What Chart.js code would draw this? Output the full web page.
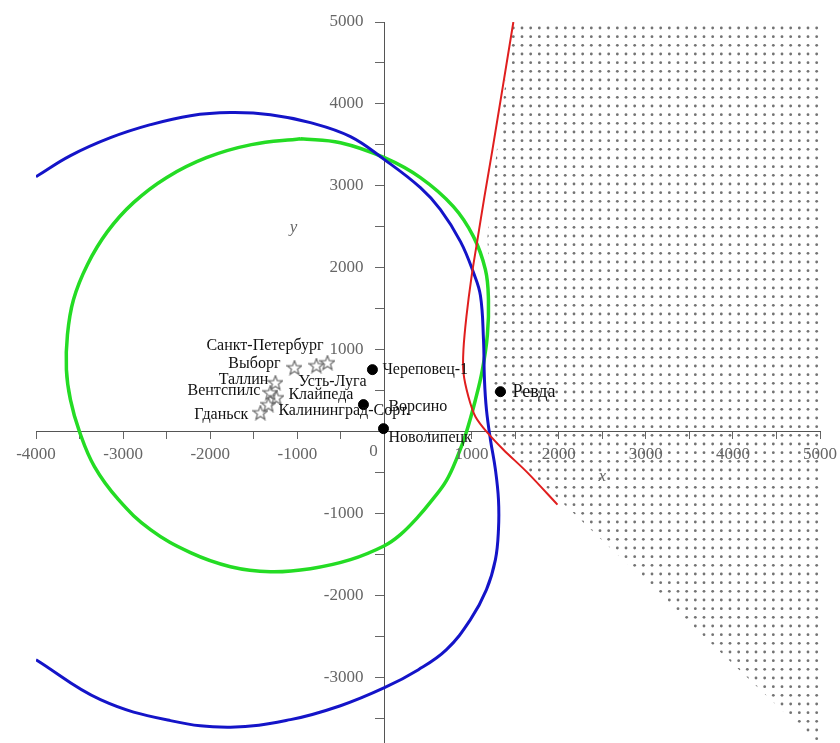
<!DOCTYPE html>
<html>
<head>
<meta charset="utf-8">
<script src="https://cdn.jsdelivr.net/npm/chart.js@4/dist/chart.umd.min.js"></script>
<style>
  body { margin: 0; background: #fff; }
  canvas { display: block; }
</style>
</head>
<body>
<canvas id="mapChart" width="840" height="743"></canvas>
<script>
// curves, as [x, y] pairs
const blueCurve = [
    [-4000, 3112], [-3604, 3369], [-3145, 3588], [-2686, 3747], [-2227, 3857],
    [-1768, 3894], [-1309, 3869], [-850, 3772], [-390, 3601], [0, 3320],
    [413, 2978], [643, 2710], [873, 2320], [1022, 1941], [1102, 1660],
    [1137, 1123], [1148, 635], [1171, 269], [1217, -98], [1274, -464],
    [1309, -830], [1309, -1196], [1274, -1562], [1171, -1928], [987, -2295],
    [712, -2661], [390, -2905], [0, -3125], [-505, -3345], [-1079, -3515],
    [-1768, -3607], [-2457, -3527], [-3260, -3271], [-4000, -2783]
];
const greenCurve = [
    [-964, 3576], [-505, 3527], [0, 3344], [413, 3100], [792, 2746],
    [1022, 2380], [1159, 1977], [1194, 1611], [1182, 1184], [1125, 757],
    [1045, 391], [942, 0], [838, -305], [711, -598], [551, -830],
    [378, -1049], [183, -1257], [0, -1392], [-390, -1562], [-850, -1672],
    [-1309, -1709], [-1768, -1648], [-2227, -1477], [-2686, -1196], [-3053, -830],
    [-3329, -427], [-3501, 0], [-3605, 391], [-3651, 757], [-3639, 1184],
    [-3570, 1611], [-3410, 2038], [-3180, 2441], [-2881, 2795], [-2503, 3100],
    [-2044, 3344], [-1527, 3503], [-964, 3576]
];
const redCurve = [
    [1480, 5000], [1240, 3442], [1148, 2868], [1068, 2343], [1000, 1892],
    [941, 1404], [907, 1001], [907, 720], [964, 427], [1045, 183],
    [1182, -12], [1366, -220], [1642, -500], [1986, -891]
];
// boundary of the shaded (dotted) region
const regionEdge = [
    [1480, 5000], [5000, 5000], [5000, -3800], [4960, -3800], [1380, -200],
    [1240, 0], [1240, 1600], [1180, 2350], [1290, 3440], [1480, 5000]
];

// points
const dotNames = ["Череповец-1", "Ворсино", "Новолипецк", "Ревда"];
const dotX = [-138, -241, -11, 1332];
const dotY = [757, 330, 37, 488];

const starNames = ["Санкт-Петербург", "Усть-Луга", "Выборг", "Таллин",
    "Вентспилс", "Клайпеда", "Калининград-Сорт.", "Гданьск"];
const starX = [-654, -781, -1033, -1252, -1310, -1240, -1332, -1424];
const starY = [842, 806, 781, 598, 476, 415, 330, 232];

// axes
const xRange = [-4000, 5000];
const yRange = [-3800, 5000];
const xTicks = [-4000, -3500, -3000, -2500, -2000, -1500, -1000, -500, 0,
    500, 1000, 1500, 2000, 2500, 3000, 3500, 4000, 4500, 5000];
const yTicks = [-3500, -3000, -2500, -2000, -1500, -1000, -500, 0,
    500, 1000, 1500, 2000, 2500, 3000, 3500, 4000, 4500, 5000];
const labelStep = 1000;

// where each name goes, in px from its point
const dotLabelPos = [
    { dx: 10, dy: 0, align: "left" },
    { dx: 25, dy: 2, align: "left" },
    { dx: 5, dy: 9, align: "left" },
    { dx: 12, dy: 1, align: "left", size: 18 }
];
const starLabelPos = [
    { dx: -4, dy: -17, align: "right" },
    { dx: -18, dy: 16, align: "left" },
    { dx: -14, dy: -4, align: "right" },
    { dx: -7, dy: -3, align: "right" },
    { dx: -10, dy: -2, align: "right" },
    { dx: 12, dy: -3, align: "left" },
    { dx: 10, dy: 6, align: "left" },
    { dx: -12, dy: 2, align: "right" }
];

const toXY = pts => pts.map(p => ({ x: p[0], y: p[1] }));

function dotPattern() {
    const tile = document.createElement("canvas");
    tile.width = 26;
    tile.height = 26;
    const g = tile.getContext("2d");
    g.fillStyle = "#737373";
    for (let i = 0; i < 3; i++) {
        for (let j = 0; j < 3; j++) {
            g.beginPath();
            g.arc(2 + i * 26 / 3, 2 + j * 26 / 3, 1.4, 0, Math.PI * 2);
            g.fill();
        }
    }
    return document.createElement("canvas").getContext("2d").createPattern(tile, "repeat");
}

function starImage(size, color) {
    const c = document.createElement("canvas");
    c.width = size;
    c.height = size;
    const g = c.getContext("2d");
    g.strokeStyle = color;
    g.lineWidth = 1.2;
    g.beginPath();
    for (let i = 0; i < 10; i++) {
        const r = i % 2 ? size * 0.2 : size * 0.47;
        const a = -Math.PI / 2 + i * Math.PI / 5;
        const px = size / 2 + r * Math.cos(a);
        const py = size / 2 + 0.5 + r * Math.sin(a);
        if (i === 0) g.moveTo(px, py); else g.lineTo(px, py);
    }
    g.closePath();
    g.stroke();
    return c;
}

const serif = '"Liberation Serif", "Times New Roman", serif';

// tick numbers, names and axis letters
const textPlugin = {
    id: "texts",
    afterDatasetsDraw(chart) {
        const ctx = chart.ctx;
        const sx = chart.scales.x, sy = chart.scales.y;
        const ox = sx.getPixelForValue(0), oy = sy.getPixelForValue(0);
        ctx.save();
        ctx.textBaseline = "middle";

        ctx.fillStyle = "#666";
        ctx.font = "17px " + serif;
        ctx.textAlign = "center";
        sx.ticks.forEach(t => {
            if (t.value % labelStep === 0 && t.value !== 0)
                ctx.fillText(String(t.value), sx.getPixelForValue(t.value), oy + 23);
        });
        ctx.fillText("0", ox - 11, oy + 20);
        ctx.textAlign = "right";
        sy.ticks.forEach(t => {
            if (t.value % labelStep === 0 && t.value !== 0)
                ctx.fillText(String(t.value), ox - 21, sy.getPixelForValue(t.value));
        });
        ctx.textAlign = "center";
        ctx.font = "italic 17px " + serif;
        ctx.fillText("x", sx.getPixelForValue(2500), oy + 45);
        ctx.fillText("y", ox - 91, sy.getPixelForValue(2490));

        ctx.fillStyle = "#111";
        const put = (names, xs, ys, pos) => {
            names.forEach((name, i) => {
                const p = pos[i];
                ctx.font = (p.size || 16) + "px " + serif;
                ctx.textAlign = p.align;
                ctx.fillText(name, sx.getPixelForValue(xs[i]) + p.dx, sy.getPixelForValue(ys[i]) + p.dy);
            });
        };
        put(starNames, starX, starY, starLabelPos);
        put(dotNames, dotX, dotY, dotLabelPos);
        ctx.restore();
    }
};

const ctx = document.getElementById("mapChart").getContext("2d");
const mapChart = new Chart(ctx, {
    type: "scatter",
    data: {
        datasets: [
            {
                label: "region",
                data: toXY(regionEdge),
                showLine: true,
                fill: "shape",
                backgroundColor: dotPattern(),
                borderWidth: 0,
                pointRadius: 0,
                order: 10
            },
            {
                label: "blue",
                data: toXY(blueCurve),
                showLine: true,
                borderColor: "#1414c8",
                borderWidth: 3,
                pointRadius: 0,
                tension: 0.4,
                order: 5
            },
            {
                label: "green",
                data: toXY(greenCurve),
                showLine: true,
                borderColor: "#24dc24",
                borderWidth: 3.5,
                pointRadius: 0,
                tension: 0.4,
                order: 6
            },
            {
                label: "red",
                data: toXY(redCurve),
                showLine: true,
                borderColor: "#e01e1e",
                borderWidth: 2,
                pointRadius: 0,
                tension: 0.3,
                order: 4
            },
            {
                label: "ports",
                data: starX.map((x, i) => ({ x, y: starY[i] })),
                pointStyle: starImage(16, "#6a6a6a"),
                pointRadius: 8,
                order: 2
            },
            {
                label: "plants",
                data: dotX.map((x, i) => ({ x, y: dotY[i] })),
                pointStyle: "circle",
                pointRadius: 5,
                backgroundColor: "#000",
                borderColor: "#000",
                order: 1
            }
        ]
    },
    options: {
        responsive: false,
        animation: false,
        layout: { autoPadding: false, padding: { left: 36, right: 20, top: 22, bottom: 0 } },
        plugins: {
            legend: { display: false },
            tooltip: { enabled: false }
        },
        scales: {
            x: {
                type: "linear",
                min: xRange[0],
                max: xRange[1],
                position: { y: 0 },
                afterFit: s => { s.height = 0; },
                afterBuildTicks: s => { s.ticks = xTicks.map(value => ({ value })); },
                border: { color: "#555", width: 1 },
                grid: { drawOnChartArea: false, tickLength: 7, color: "#666" },
                ticks: { display: false, autoSkip: false }
            },
            y: {
                type: "linear",
                min: yRange[0],
                max: yRange[1],
                position: { x: 0 },
                afterFit: s => { s.width = 0; },
                afterBuildTicks: s => { s.ticks = yTicks.map(value => ({ value })); },
                border: { color: "#555", width: 1 },
                grid: { drawOnChartArea: false, tickLength: 9, color: "#666" },
                ticks: { display: false, autoSkip: false }
            }
        }
    },
    plugins: [textPlugin]
});
</script>
</body>
</html>
